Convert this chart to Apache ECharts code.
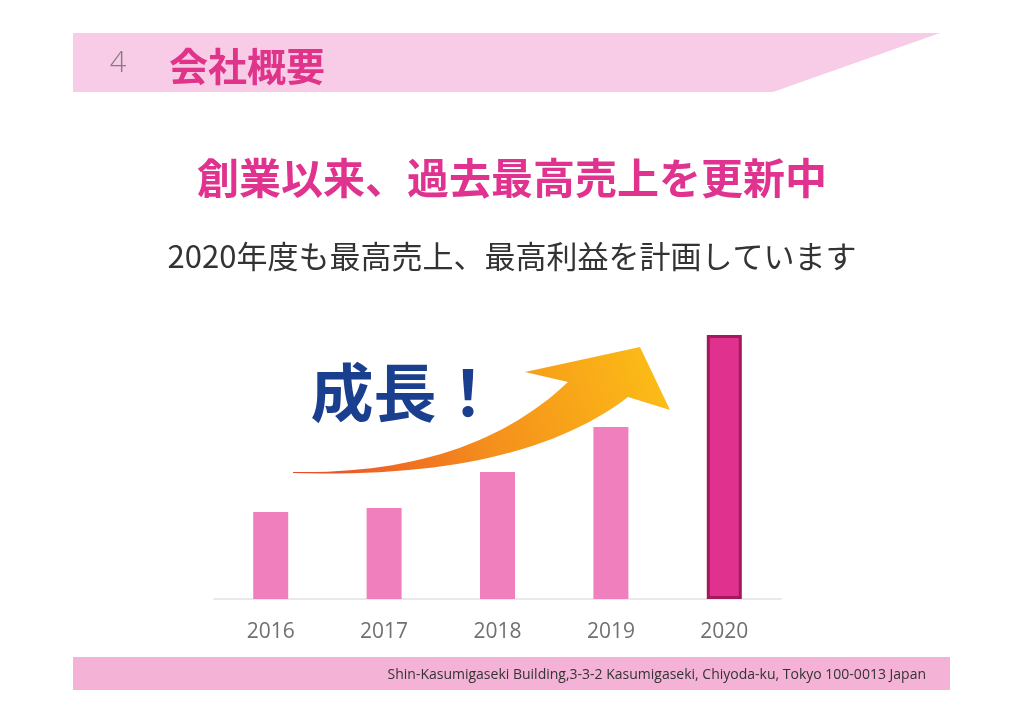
<!DOCTYPE html>
<html><head><meta charset="utf-8">
<script src="https://cdn.jsdelivr.net/npm/echarts@6/dist/echarts.min.js"></script>
<style>html,body{margin:0;padding:0;background:#fff}#c{width:1024px;height:724px}</style>
</head><body><div id="c"></div>
<script>
var categories = ['2016', '2017', '2018', '2019', '2020'];
var values = [87, 91, 127, 172, 264];
var pageNumber = '4';
var headerTitle = '会社概要';
var mainTitle = '創業以来、過去最高売上を更新中';
var subTitle = '2020年度も最高売上、最高利益を計画しています';
var badge = '成長！';
var footerText = 'Shin-Kasumigaseki Building,3-3-2 Kasumigaseki, Chiyoda-ku, Tokyo 100-0013 Japan';

var JP = '"Noto Sans CJK JP", "Noto Sans", sans-serif';

// decorative arrow outline built from quadratic curves
function quad(p0, c, p1, n) {
  var pts = [];
  for (var i = 0; i <= n; i++) {
    var t = i / n, a = (1 - t) * (1 - t), b = 2 * (1 - t) * t, d = t * t;
    pts.push([a * p0[0] + b * c[0] + d * p1[0], a * p0[1] + b * c[1] + d * p1[1]]);
  }
  return pts;
}
var arrowPts = quad([293, 472], [470, 475], [568, 382], 30)
  .concat([[525, 372], [640, 347], [670, 410]])
  .concat(quad([628, 397], [520, 480], [293, 473], 30));

var chart = echarts.init(document.getElementById('c'));
var barData = values.map(function (v, i) {
  if (i === values.length - 1) {
    return { value: v, itemStyle: { color: '#e0318f', borderColor: '#a3195f', borderWidth: 3 } };
  }
  return { value: v, itemStyle: { color: '#f080bd' } };
});
chart.setOption({
  animation: false,
  grid: { left: 214, right: 243, top: 299, bottom: 125 },
  xAxis: {
    type: 'category', data: categories,
    axisLine: { lineStyle: { color: '#e2e2e2', width: 1.5 } },
    axisTick: { show: false },
    axisLabel: { color: '#707070', fontSize: 21, margin: 23, fontFamily: '"Open Sans", "Noto Sans", sans-serif' }
  },
  yAxis: { type: 'value', min: 0, max: 300, show: false, splitLine: { show: false } },
  series: [{ type: 'bar', data: barData, barWidth: 35, z: 3 }],
  graphic: [
    { type: 'polygon', z: -1, shape: { points: [[73, 33], [940, 33], [773, 92], [73, 92]] }, style: { fill: '#f8cce6' } },
    { type: 'text', x: 118, y: 64, style: { text: pageNumber, fill: '#7f7f7f', font: '300 29px "Open Sans", sans-serif', textAlign: 'center', textVerticalAlign: 'middle' } },
    { type: 'text', x: 169, y: 66, style: { text: headerTitle, fill: '#e0338a', font: 'bold 39px ' + JP, textAlign: 'left', textVerticalAlign: 'middle' } },
    { type: 'text', x: 512, y: 178, style: { text: mainTitle, fill: '#e0338f', font: 'bold 42px ' + JP, textAlign: 'center', textVerticalAlign: 'middle' } },
    { type: 'text', x: 512, y: 256, style: { text: subTitle, fill: '#333333', font: '31px ' + JP, textAlign: 'center', textVerticalAlign: 'middle' } },
    { type: 'text', x: 405, y: 392, style: { text: badge, fill: '#1b3f8f', font: 'bold 63px ' + JP, textAlign: 'center', textVerticalAlign: 'middle' } },
    { type: 'polygon', z: 2, shape: { points: arrowPts },
      style: { fill: new echarts.graphic.LinearGradient(0, 1, 1, 0, [
        { offset: 0, color: '#e8482a' }, { offset: 0.5, color: '#f5901c' }, { offset: 1, color: '#fcc016' }]) } },
    { type: 'rect', z: -1, shape: { x: 73, y: 657, width: 877, height: 33 }, style: { fill: '#f4b3d6' } },
    { type: 'text', x: 926, y: 675, style: { text: footerText, fill: '#333333', font: '14px "Open Sans", "Noto Sans", sans-serif', textAlign: 'right', textVerticalAlign: 'middle' } }
  ]
});
</script></body></html>
